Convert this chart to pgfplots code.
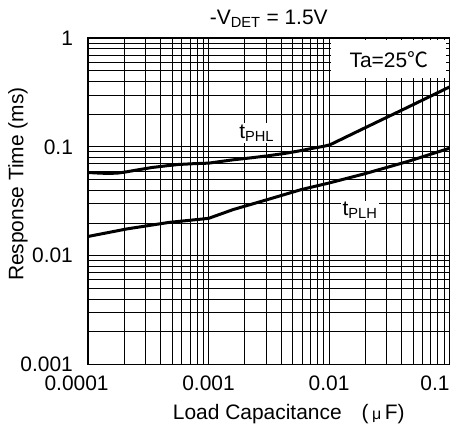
\documentclass[border=0pt]{standalone}
\usepackage{fontspec}
\setmainfont{Liberation Sans}
\newfontfamily\cjk{Noto Sans CJK JP}
\usepackage{pgfplots}
\pgfplotsset{compat=1.18}
\begin{document}
\fontsize{21}{25}\selectfont
\begin{tikzpicture}
\begin{axis}[
    scale only axis,
    width=361bp, height=326bp,
    xmode=log, ymode=log,
    xmin=1e-4, xmax=0.1, ymin=1e-3, ymax=1,
    xtick={1e-4,1e-3,1e-2,1e-1},
    xticklabels={\hspace*{-23bp}0.0001,0.001,0.01,\makebox[0pt][r]{0.1}},
    ytick={1e-3,1e-2,1e-1,1},
    yticklabels={0.001,0.01,0.1,1},
    minor xtick={2e-4,3e-4,4e-4,5e-4,6e-4,7e-4,8e-4,9e-4,
                 2e-3,3e-3,4e-3,5e-3,6e-3,7e-3,8e-3,9e-3,
                 2e-2,3e-2,4e-2,5e-2,6e-2,7e-2,8e-2,9e-2},
    minor ytick={2e-3,3e-3,4e-3,5e-3,6e-3,7e-3,8e-3,9e-3,
                 2e-2,3e-2,4e-2,5e-2,6e-2,7e-2,8e-2,9e-2,
                 0.2,0.3,0.4,0.5,0.6,0.7,0.8,0.9},
    grid=both,
    major grid style={black, line width=0.7bp},
    minor grid style={black, line width=0.7bp},
    major tick length=0pt, minor tick length=0pt,
    axis line style={line width=1.6bp},
    xticklabel style={inner xsep=0pt, yshift=-4bp},
    yticklabel style={xshift=-8bp},
    title={-V\textsubscript{DET} = 1.5V},
    title style={yshift=-3bp},
    xlabel={Load Capacitance\hspace{20bp}(\,{\fontsize{16}{16}\selectfont μ}\,F)},
    xlabel style={xshift=20bp},
    ylabel={Response Time (ms)},
    ylabel style={at={([xshift=-70bp,yshift=17bp]axis description cs:0,0.5)}, anchor=center},
    clip=false,
]
% t_PHL
\addplot[black, line width=3bp] coordinates {
    (1e-4,0.0581) (1.25e-4,0.0573) (1.5e-4,0.0569) (1.8e-4,0.0575)
    (2.1e-4,0.0590) (2.6e-4,0.0615) (3.4e-4,0.0646) (4.5e-4,0.0670)
    (5.6e-4,0.0688) (7.5e-4,0.0700) (1e-3,0.0708) (1.6e-3,0.0760)
    (2.2e-3,0.0790) (3.1e-3,0.0827) (4.3e-3,0.0870) (5.9e-3,0.0925)
    (7.5e-3,0.0975) (9e-3,0.1010) (1.02e-2,0.1045) (0.02,0.150)
    (0.045,0.231) (0.1,0.355)
};
% t_PLH
\addplot[black, line width=3bp] coordinates {
    (1e-4,0.0150) (2.1e-4,0.0176) (4.7e-4,0.0202) (1e-3,0.0220)
    (1.6e-3,0.0265) (3.1e-3,0.0328) (5.9e-3,0.0405) (1e-2,0.0465)
    (0.0197,0.0565) (0.0453,0.0735) (0.1,0.097)
};
\node[fill=white, minimum width=115bp, minimum height=38bp, anchor=north east, inner sep=0pt]
    at (rel axis cs:0.992,0.994) {Ta=25{\cjk ℃}};
\node[fill=white, inner sep=1.5bp] at (axis cs:0.00251,0.134) {t\textsubscript{PHL}};
\node[fill=white, inner sep=1.5bp] at (axis cs:0.0181,0.0259) {t\textsubscript{PLH}};
\path ([xshift=-88bp,yshift=-61bp]rel axis cs:0,0) rectangle ([xshift=1.5bp,yshift=38bp]rel axis cs:1,1);
\end{axis}
\end{tikzpicture}
\end{document}
